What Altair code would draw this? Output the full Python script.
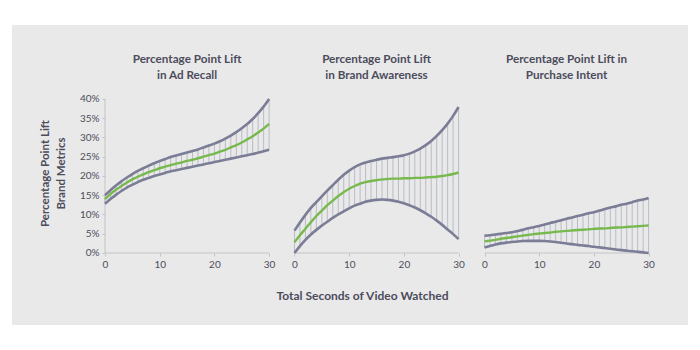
import altair as alt
import pandas as pd

# ---------------- data (percent) ----------------
seconds = list(range(31))

panel_titles = [
    "Percentage Point Lift\nin Ad Recall",
    "Percentage Point Lift\nin Brand Awareness",
    "Percentage Point Lift in\nPurchase Intent",
]

recall_upper = [15.0, 16.3, 17.5, 18.6, 19.6, 20.5, 21.3, 22.0, 22.7, 23.3, 23.9, 24.4, 24.9, 25.3, 25.7, 26.1,
                26.5, 26.9, 27.4, 27.9, 28.4, 29.0, 29.7, 30.5, 31.4, 32.4, 33.5, 34.8, 36.3, 38.0, 40.0]
recall_mid = [14.0, 15.3, 16.4, 17.4, 18.3, 19.1, 19.8, 20.4, 21.0, 21.5, 22.0, 22.4, 22.8, 23.2, 23.5, 23.9,
              24.2, 24.6, 25.0, 25.4, 25.8, 26.3, 26.8, 27.4, 28.0, 28.7, 29.5, 30.3, 31.3, 32.3, 33.5]
recall_lower = [12.8, 14.0, 15.1, 16.1, 17.0, 17.7, 18.4, 19.0, 19.5, 20.0, 20.4, 20.8, 21.2, 21.5, 21.8, 22.1,
                22.4, 22.7, 23.0, 23.3, 23.6, 23.9, 24.2, 24.5, 24.8, 25.1, 25.4, 25.7, 26.0, 26.4, 26.8]

aware_upper = [5.8, 7.9, 9.9, 11.7, 13.2, 14.7, 16.2, 17.6, 19.0, 20.3, 21.4, 22.3, 23.0, 23.5, 23.9, 24.2,
               24.5, 24.7, 24.9, 25.1, 25.4, 25.8, 26.4, 27.1, 28.0, 29.1, 30.4, 31.9, 33.6, 35.6, 37.9]
aware_mid = [2.8, 4.6, 6.3, 8.0, 9.6, 11.0, 12.4, 13.6, 14.8, 15.8, 16.7, 17.4, 18.0, 18.4, 18.7, 18.9,
             19.1, 19.2, 19.3, 19.3, 19.4, 19.4, 19.5, 19.5, 19.6, 19.7, 19.8, 20.0, 20.2, 20.5, 20.9]
aware_lower = [0.0, 1.8, 3.4, 4.8, 6.0, 7.1, 8.1, 9.1, 10.0, 10.8, 11.6, 12.3, 12.8, 13.3, 13.6, 13.8,
               13.9, 13.8, 13.6, 13.3, 12.9, 12.4, 11.8, 11.1, 10.3, 9.4, 8.4, 7.3, 6.1, 4.9, 3.6]

intent_upper = [4.5, 4.6, 4.8, 5.0, 5.2, 5.4, 5.7, 6.0, 6.4, 6.7, 7.0, 7.4, 7.8, 8.1, 8.5, 8.9,
                9.2, 9.6, 9.9, 10.3, 10.6, 11.0, 11.4, 11.8, 12.1, 12.5, 12.8, 13.2, 13.6, 13.9, 14.3]
intent_mid = [3.0, 3.2, 3.4, 3.7, 3.9, 4.1, 4.3, 4.5, 4.7, 4.9, 5.05, 5.2, 5.3, 5.5, 5.6, 5.75,
              5.85, 5.95, 6.05, 6.15, 6.25, 6.35, 6.4, 6.5, 6.6, 6.65, 6.75, 6.85, 6.95, 7.05, 7.15]
intent_lower = [1.4, 1.8, 2.2, 2.5, 2.7, 2.85, 3.0, 3.1, 3.15, 3.15, 3.15, 3.1, 3.0, 2.85, 2.65, 2.45,
                2.3, 2.1, 1.95, 1.8, 1.6, 1.45, 1.3, 1.1, 0.9, 0.75, 0.6, 0.45, 0.3, 0.15, 0.0]

y_ticks = [0, 0.05, 0.10, 0.15, 0.20, 0.25, 0.30, 0.35, 0.40]
x_ticks = [0, 10, 20, 30]

# ---------------- layout helpers ----------------
PANEL_OFFSET = [0, 34.64, 69.38]      # where each small panel sits on the shared x scale
X_DOMAIN = [-17.0, 106.58]
Y_DOMAIN = [-0.187, 0.592]
TITLE_Y = 0.503

series = [
    (recall_lower, recall_mid, recall_upper),
    (aware_lower, aware_mid, aware_upper),
    (intent_lower, intent_mid, intent_upper),
]

rows = []
for p, (lo, mid, up) in enumerate(series):
    for s, a, b, c in zip(seconds, lo, mid, up):
        rows.append(dict(panel=p, sec=s, pos=s + PANEL_OFFSET[p],
                         lower=a / 100, mid=b / 100, upper=c / 100))
df = pd.DataFrame(rows)

titles_df = pd.DataFrame({
    "panel": [0, 1, 2],
    "pos": [o + max(x_ticks) / 2 for o in PANEL_OFFSET],
    "ty": [TITLE_Y] * 3,
    "title": panel_titles,
})

xaxis_df = pd.DataFrame({
    "pos": [o + min(x_ticks) for o in PANEL_OFFSET],
    "pos2": [o + max(x_ticks) for o in PANEL_OFFSET],
    "y0": [0.0] * 3,
})
yaxis_df = pd.DataFrame({"pos": [0.0], "y0": [min(y_ticks)], "y1": [max(y_ticks)]})

TEXT = "#4c4c5c"
FONT = "Lato"
AXIS_COL = "#c4c4c8"

tick_values = [o + t for o in PANEL_OFFSET for t in x_ticks]
label_expr = (
    f"format(datum.value >= {PANEL_OFFSET[2] - 1} ? datum.value - {PANEL_OFFSET[2]} : "
    f"datum.value >= {PANEL_OFFSET[1] - 1} ? datum.value - {PANEL_OFFSET[1]} : datum.value, '.0f')"
)

xscale = alt.Scale(domain=X_DOMAIN, nice=False, zero=False)
yscale = alt.Scale(domain=Y_DOMAIN, nice=False, zero=False)

xaxis = alt.Axis(
    values=tick_values, labelExpr=label_expr, offset=-72, domain=False, grid=False,
    tickSize=3, tickColor=AXIS_COL, labelFont=FONT, labelFontSize=10, labelColor=TEXT,
    labelPadding=3, title="Total Seconds of Video Watched", titleFont=FONT, titleFontSize=12,
    titleFontWeight="bold", titleColor=TEXT, titlePadding=21, titleX=350,
)
yaxis = alt.Axis(
    values=y_ticks, format=".0%", offset=-93, domain=False, grid=False,
    tickSize=3, tickColor=AXIS_COL, labelFont=FONT, labelFontSize=10, labelColor=TEXT,
    labelPadding=3, title=["Percentage Point Lift", "Brand Metrics"], titleFont=FONT,
    titleFontSize=11.5, titleFontWeight="bold", titleColor=TEXT, titlePadding=13,
    titleLineHeight=16, titleY=148,
)


def X(field):
    return alt.X(field, type="quantitative", scale=xscale, axis=xaxis)


def Y(field):
    return alt.Y(field, type="quantitative", scale=yscale, axis=yaxis)


base = alt.Chart(df)

hatch = base.mark_rule(color="#b9bcc7", strokeWidth=1).encode(
    x=X("pos"), y=Y("lower"), y2="upper"
)
upper = base.mark_line(color="#7a7d95", strokeWidth=2.6, interpolate="monotone").encode(
    x=X("pos"), y=Y("upper"), detail="panel:N"
)
lower = base.mark_line(color="#7a7d95", strokeWidth=2.6, interpolate="monotone").encode(
    x=X("pos"), y=Y("lower"), detail="panel:N"
)
mid = base.mark_line(color="#78b94e", strokeWidth=2.4, interpolate="monotone").encode(
    x=X("pos"), y=Y("mid"), detail="panel:N"
)

x_lines = alt.Chart(xaxis_df).mark_rule(color=AXIS_COL, strokeWidth=1).encode(
    x=X("pos"), x2="pos2", y=Y("y0")
)
y_line = alt.Chart(yaxis_df).mark_rule(color=AXIS_COL, strokeWidth=1).encode(
    x=X("pos"), y=Y("y0"), y2="y1"
)

titles = alt.Chart(titles_df).mark_text(
    font=FONT, fontSize=11.7, fontWeight="bold", color=TEXT, lineBreak="\n",
    lineHeight=16, baseline="middle", align="center",
).encode(x=X("pos"), y=Y("ty"), text="title:N")

chart = alt.layer(x_lines, y_line, hatch, lower, upper, mid, titles).properties(
    width=676, height=300,
    autosize=alt.AutoSizeParams(type="none"),
    padding={"left": 12, "top": 25, "right": 12, "bottom": 25},
    background="white",
).configure_view(fill="#e9e9e9", strokeWidth=0)

chart.save("out.html", embed_options={"renderer": "svg", "actions": False})
